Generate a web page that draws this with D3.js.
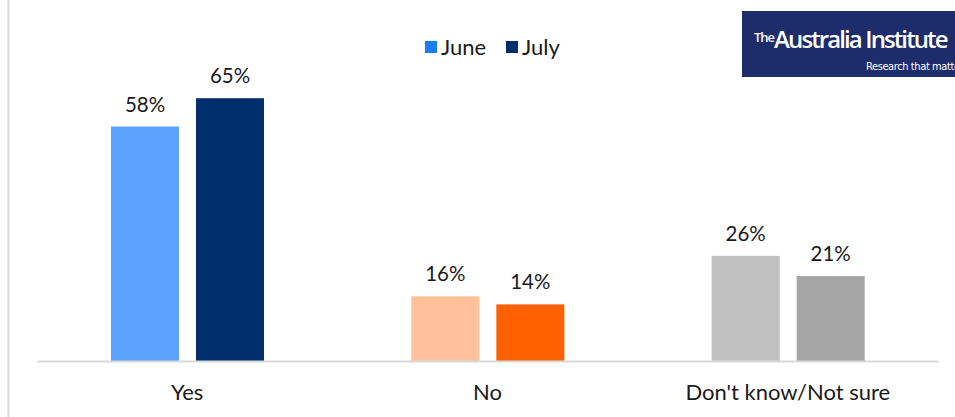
<!DOCTYPE html>
<html><head><meta charset="utf-8">
<script src="https://cdn.jsdelivr.net/npm/d3@7"></script>
<style>body{margin:0;background:#fff;}svg{display:block;font-family:Lato,"Open Sans",sans-serif;}</style>
</head><body><svg id="c" width="955" height="417"></svg>
<script>
const categories = ["Yes", "No", "Don't know/Not sure"];
const series = ["June", "July"];
const june = [58, 16, 26];
const july = [65, 14, 21];
const juneColors = ["#5BA3FF", "#FFC09A", "#C0C0C0"];
const julyColors = ["#002D6B", "#FF6100", "#A5A5A5"];
const legendColors = ["#1A7CFF", "#002D6B"];

const svg = d3.select("#c");
svg.append("rect").attr("x",0).attr("y",0).attr("width",955).attr("height",417).attr("fill","#fff");
svg.append("line").attr("x1",8.5).attr("x2",8.5).attr("y1",0).attr("y2",417).attr("stroke","#D9D9D9").attr("stroke-width",2);

const x0 = d3.scaleBand().domain(categories).range([37, 938]).paddingInner(0).paddingOuter(0);
const x1 = d3.scaleBand().domain(series).range([74, 227]).paddingInner(0.2).paddingOuter(0);
const y = d3.scaleLinear().domain([0, 70]).range([361, 78]);

const data = categories.map((c,i)=>({c, vals:[
  {s:"June", v:june[i], col:juneColors[i]},
  {s:"July", v:july[i], col:julyColors[i]}]}));

const g = svg.append("g").selectAll("g").data(data).join("g")
  .attr("transform", d=>`translate(${x0(d.c)},0)`);
g.selectAll("rect").data(d=>d.vals).join("rect")
  .attr("x", d=>x1(d.s)).attr("width", x1.bandwidth())
  .attr("y", d=>y(d.v)).attr("height", d=>y(0)-y(d.v)).attr("fill", d=>d.col);
g.selectAll("text.v").data(d=>d.vals).join("text").attr("class","v")
  .attr("x", d=>x1(d.s)+x1.bandwidth()/2).attr("y", d=>y(d.v)-15)
  .attr("text-anchor","middle").attr("font-size",20.5).attr("fill","#1a1a1a")
  .text(d=>d.v+"%");

const xAxis = svg.append("g").attr("transform","translate(0,361)")
  .call(d3.axisBottom(x0).tickSize(0).tickPadding(23));
xAxis.select(".domain").attr("stroke","#D9D9D9").attr("stroke-width",2);
xAxis.selectAll("text").attr("font-size",22).attr("fill","#1a1a1a").attr("font-family","Lato,'Open Sans',sans-serif");

const leg = svg.append("g");
const lx = [425, 506];
series.forEach((s,i)=>{
  leg.append("rect").attr("x",lx[i]).attr("y",41).attr("width",12).attr("height",12).attr("fill",legendColors[i]);
  leg.append("text").attr("x",lx[i]+16).attr("y",55).attr("font-size",22).attr("fill","#1a1a1a").text(s);
});

// logo
const logo = svg.append("g");
logo.append("rect").attr("x",742).attr("y",11).attr("width",213).attr("height",66).attr("fill","#1D2C6B");
const t = logo.append("text").attr("x",754).attr("y",48).attr("fill","#fff").attr("font-family","'Open Sans',sans-serif").attr("font-weight",600);
t.append("tspan").attr("font-size",13).attr("dy",-6).attr("letter-spacing",-1).text("The");
t.append("tspan").attr("font-size",24).attr("dy",6).attr("letter-spacing",-1.9).text("Australia Institute");
logo.append("text").attr("x",866).attr("y",70).attr("fill","#fff").attr("font-size",11).attr("letter-spacing",-0.4).attr("font-family","'Liberation Sans Narrow','DejaVu Sans Condensed',sans-serif").text("Research that matters");
</script></body></html>
